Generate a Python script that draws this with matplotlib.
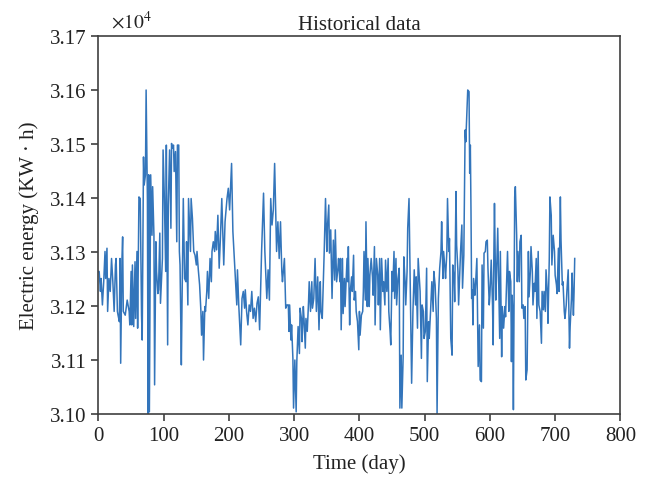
import matplotlib
import matplotlib.pyplot as plt
import numpy as np

matplotlib.use('Agg')

LINE_COLOR = '#3375bb'
AXIS_COLOR = '#404040'

# day index and daily electric energy (KW*h)
day = [
    0, 1, 3, 4, 6, 8, 10, 11, 13, 14,
    16, 18, 20, 22, 24, 26, 27, 29, 30, 32,
    33, 34, 36, 37, 38, 41, 44, 47, 48, 50,
    51, 52, 54, 56, 57, 59, 60, 62, 64, 66,
    67, 69, 70, 72, 73, 75, 76, 77, 78, 80,
    82, 83, 85, 86, 88, 89, 91, 92, 94, 95,
    98, 99, 101, 103, 104, 106, 107, 109, 111, 112,
    113, 115, 116, 118, 120, 121, 123, 124, 125, 127,
    128, 130, 132, 134, 135, 137, 138, 141, 142, 144,
    146, 148,
    150, 151, 153, 155, 157, 158, 160, 161, 163, 164,
    166, 167, 169, 171, 173, 174, 176, 178, 179, 181,
    183, 185, 187, 189, 192, 194, 197, 199, 201, 203,
    204, 206, 209, 212, 213, 215, 218, 220, 222, 224,
    225, 227, 229, 231, 233, 235, 237, 239, 241, 243,
    245, 247, 250, 253, 255, 258, 260, 262, 264, 266,
    268, 270, 273, 275, 277, 279, 281, 282, 285, 287,
    289, 291, 292, 293, 295, 296, 298, 299, 301, 303,
    304, 306, 308, 309, 311, 312, 314, 315, 317, 318,
    320, 322, 323, 325, 327, 328, 330, 332, 334, 336,
    338, 340, 341, 343, 345, 346, 348, 350, 351, 353,
    354, 356, 358, 360, 362, 363, 365, 367, 368, 370,
    371, 372, 374, 375, 377, 378, 381, 382, 383, 385,
    386, 388, 389, 391, 392, 394, 395, 397, 399, 400,
    401, 403, 405, 406, 407, 409, 410, 412, 413, 415,
    416, 418, 420, 421, 423, 424, 426, 428, 429, 431,
    432, 434,
    436, 437, 439, 440, 442, 444, 445, 447, 448, 450,
    451, 453, 454, 456, 457, 459, 461, 462, 464, 465,
    467, 468, 470, 471, 473, 474, 476, 478, 480, 482,
    484, 486, 487, 489, 490, 492, 493, 495, 496, 498,
    499, 501, 503, 504, 506, 507, 509, 511, 513, 514,
    516, 518, 519, 521, 523, 525, 526, 528, 529, 531,
    532, 534, 535, 537, 538, 540, 542, 543, 545, 546,
    548, 549, 551, 552, 554, 555, 557, 558, 560, 562,
    563, 565, 566, 568, 569, 570, 571, 572, 573, 574,
    575, 577, 578, 580,
    582, 584, 585, 587, 588, 590, 591, 593, 594, 596,
    597, 599, 600, 602, 604, 605, 606, 607, 609, 610,
    612, 613, 615, 616, 618, 619, 621, 623, 624, 626,
    627, 629, 630, 632, 633, 634, 635, 636, 638, 639,
    641, 642, 643, 645, 646, 648, 649, 651, 652, 654,
    655, 657, 659, 660, 662, 663, 665, 666, 668, 669,
    671, 672, 674, 675, 677, 679, 680, 682, 683, 685,
    686, 688, 689, 691, 692, 694, 695, 697, 699, 700,
    702, 703, 705, 706, 708, 709, 711, 712, 714, 715,
    717, 718, 720, 722, 723, 725, 726, 728, 729, 730,
]

energy = [
    31264, 31264, 31227, 31251, 31202, 31245, 31301, 31251, 31307, 31190,
    31251, 31227, 31288, 31245, 31190, 31276, 31288, 31190, 31183, 31171,
    31288, 31094, 31288, 31328, 31190, 31183, 31211, 31190, 31165, 31264,
    31165, 31276, 31162, 31282, 31177, 31301, 31159, 31402, 31399, 31183,
    31137, 31476, 31424, 31443, 31600, 31396, 31001, 31443, 31004, 31443,
    31331, 31421, 31331, 31054, 31319, 31264, 31223, 31230, 31335, 31205,
    31288, 31489, 31399, 31264, 31498, 31128, 31387, 31489, 31344, 31501,
    31492, 31498, 31449, 31486, 31319, 31498, 31498, 31301, 31276, 31091,
    31202, 31399, 31251, 31245, 31319, 31202, 31399, 31301, 31399, 31362,
    31301, 31294,
    31276, 31301, 31267, 31239, 31190, 31146, 31190, 31100, 31199, 31190,
    31227, 31264, 31214, 31288, 31245, 31301, 31319, 31301, 31338, 31304,
    31368, 31270, 31330, 31399, 31276, 31356, 31399, 31418, 31378, 31436,
    31464, 31338, 31270, 31202, 31267, 31202, 31128, 31214, 31227, 31196,
    31230, 31190, 31165, 31202, 31190, 31227, 31177, 31196, 31171, 31205,
    31217, 31156, 31301, 31409, 31301, 31214, 31267, 31211, 31399, 31350,
    31378, 31464, 31301, 31356, 31288, 31356, 31264, 31245, 31288, 31196,
    31202, 31202, 31153, 31202, 31137, 31165, 31103, 31011, 31100, 31004,
    31097, 31162, 31112, 31196, 31177, 31134, 31199, 31177, 31122, 31177,
    31153, 31208, 31245, 31190, 31245, 31196, 31214, 31288, 31190, 31254,
    31156, 31245, 31190, 31177, 31257, 31301, 31399, 31301, 31347, 31387,
    31298, 31341, 31214, 31322, 31248, 31341, 31245, 31270, 31288, 31245,
    31288, 31156, 31288, 31186, 31251, 31199, 31288, 31245, 31310, 31165,
    31227, 31254, 31227, 31294, 31211, 31227, 31190, 31171, 31119, 31190,
    31146, 31183, 31190, 31227, 31301, 31211, 31356, 31199, 31288, 31199,
    31257, 31288, 31254, 31220, 31310, 31165, 31288, 31257, 31202, 31288,
    31156, 31288,
    31227, 31245, 31202, 31285, 31227, 31288, 31190, 31153, 31128, 31264,
    31227, 31301, 31214, 31288, 31202, 31251, 31270, 31011, 31109, 31011,
    31106, 31291, 31245, 31202, 31264, 31344, 31399, 31227, 31057, 31190,
    31267, 31202, 31254, 31159, 31288, 31245, 31227, 31103, 31202, 31190,
    31140, 31153, 31270, 31060, 31171, 31140, 31190, 31245, 31190, 31264,
    31239, 31177, 31001, 31214, 31270, 31301, 31356, 31251, 31301, 31270,
    31251, 31301, 31399, 31301, 31325, 31140, 31109, 31276, 31251, 31208,
    31412, 31313, 31264, 31202, 31267, 31301, 31350, 31233, 31294, 31526,
    31504, 31566, 31600, 31597, 31446, 31498, 31375, 31214, 31230, 31165,
    31251, 31220, 31239, 31288,
    31088, 31165, 31063, 31060, 31276, 31159, 31298, 31301, 31319, 31322,
    31270, 31202, 31220, 31285, 31202, 31128, 31288, 31390, 31211, 31251,
    31344, 31273, 31140, 31301, 31106, 31199, 31159, 31199, 31180, 31264,
    31301, 31190, 31264, 31245, 31097, 31220, 31190, 31008, 31402, 31421,
    31331, 31245, 31301, 31245, 31319, 31331, 31196, 31202, 31177, 31199,
    31063, 31082, 31301, 31217, 31264, 31310, 31264, 31202, 31242, 31227,
    31288, 31177, 31301, 31202, 31190, 31131, 31227, 31193, 31227, 31190,
    31267, 31227, 31168, 31288, 31402, 31368, 31276, 31331, 31301, 31257,
    31239, 31223, 31307, 31227, 31402, 31322, 31239, 31245, 31190, 31177,
    31202, 31227, 31267, 31122, 31162, 31214, 31261, 31183, 31227, 31288,
]

x_ticks = [0, 100, 200, 300, 400, 500, 600, 700, 800]
y_ticks = [3.10, 3.11, 3.12, 3.13, 3.14, 3.15, 3.16, 3.17]

assert len(day) == len(energy)

plt.rcParams['font.family'] = ['Liberation Serif', 'DejaVu Serif']
plt.rcParams['mathtext.fontset'] = 'stix'
plt.rcParams['font.size'] = 15

fig = plt.figure(figsize=(6.54, 4.85), dpi=100)
ax = fig.add_axes([0.1506, 0.1443, 0.798, 0.7794])

ax.plot(day, np.array(energy) / 1e4, color=LINE_COLOR, lw=1.1)

ax.set_xlim(0, 800)
ax.set_ylim(3.10, 3.17)
ax.set_xticks(x_ticks)
ax.set_yticks(y_ticks)
ax.set_yticklabels([f'{t:.2f}' for t in y_ticks])

for side in ax.spines.values():
    side.set_color(AXIS_COLOR)
    side.set_linewidth(1.2)
ax.tick_params(direction='out', length=5, width=1.2, color=AXIS_COLOR,
               labelcolor='#222222', labelsize=15)

ax.set_title('Historical data', fontsize=15, pad=5, color='#222222')
ax.set_xlabel('Time (day)', fontsize=15, color='#222222', labelpad=6)
ax.set_ylabel('Electric energy (KW \u00b7 h)', fontsize=15,
              color='#222222', labelpad=8)
ax.text(0.024, 1.012, r'$\times 10^{4}$', transform=ax.transAxes,
        ha='left', va='bottom', fontsize=14, color='#222222')

fig.savefig('out.png', dpi=100)
